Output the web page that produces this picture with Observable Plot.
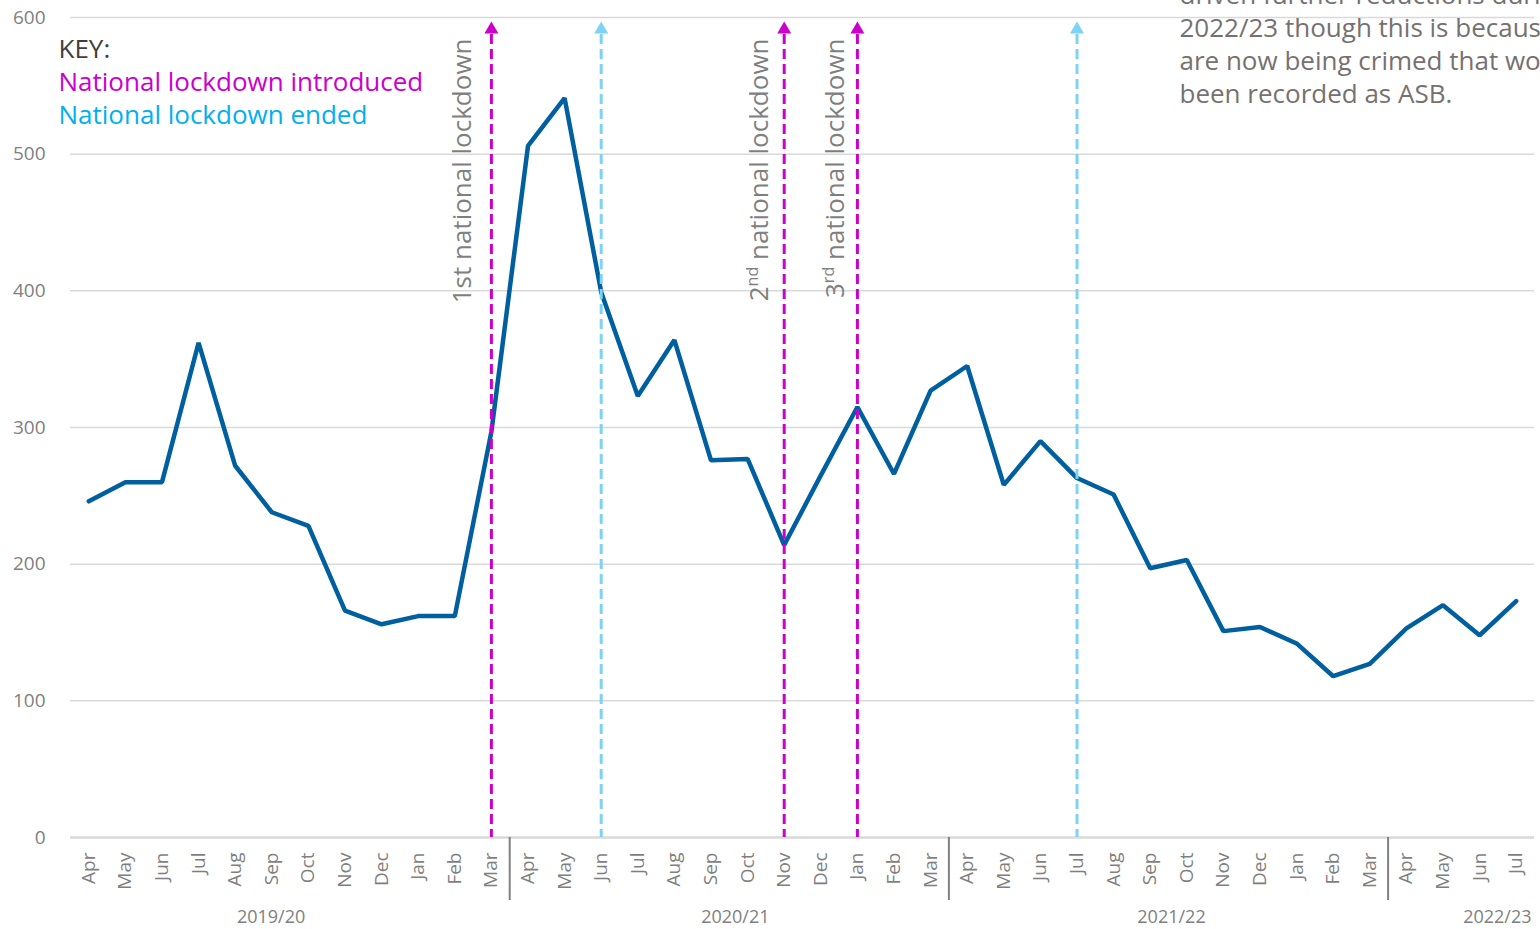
<!DOCTYPE html>
<html><head><meta charset="utf-8">
<script src="https://cdn.jsdelivr.net/npm/d3@7"></script>
<script src="https://cdn.jsdelivr.net/npm/@observablehq/plot@0.6"></script>
<style>html,body{margin:0;padding:0;background:#fff;overflow:hidden}</style>
</head><body><div id="chart"></div>
<script>
const monthLabels = ["Apr","May","Jun","Jul","Aug","Sep","Oct","Nov","Dec","Jan","Feb","Mar",
  "Apr","May","Jun","Jul","Aug","Sep","Oct","Nov","Dec","Jan","Feb","Mar",
  "Apr","May","Jun","Jul","Aug","Sep","Oct","Nov","Dec","Jan","Feb","Mar",
  "Apr","May","Jun","Jul"];
const fiscalYears = ["2019/20","2019/20","2019/20","2019/20","2019/20","2019/20","2019/20","2019/20","2019/20","2019/20","2019/20","2019/20",
  "2020/21","2020/21","2020/21","2020/21","2020/21","2020/21","2020/21","2020/21","2020/21","2020/21","2020/21","2020/21",
  "2021/22","2021/22","2021/22","2021/22","2021/22","2021/22","2021/22","2021/22","2021/22","2021/22","2021/22","2021/22",
  "2022/23","2022/23","2022/23","2022/23"];
const asbIncidents = [246,260,260,362,272,238,228,166,156,162,162,297,
  506,541,399,323,364,276,277,214,265,315,266,327,
  345,258,290,263,251,197,203,151,154,142,118,127,
  153,170,148,173];
const yTicks = [0,100,200,300,400,500,600];
const lockdownIntroduced = [11,19,21];   // month index: Mar 2020, Nov 2020, Jan 2021
const lockdownEnded = [14,27];           // month index: Jun 2020, Jul 2021
const lockdownLabels = ["1st national lockdown","2nd national lockdown","3rd national lockdown"];
const keyLines = ["KEY:","National lockdown introduced","National lockdown ended"];
const noteLines = ["driven further reductions during","2022/23 though this is because some incidents","are now being crimed that would have previously","been recorded as ASB."];

const W = 1540, H = 929, mT = 17, mB = 92, mL = 70, mR = 6;
const frameH = H - mT - mB;
const FONT = "'Open Sans', sans-serif";
const MAGENTA = "#cc00cc", LIGHTBLUE = "#7dd3f5", LINE = "#005f9e", GREY = "#7f7f7f";
const TXT = 26;

const data = asbIncidents.map((v, i) => ({i, v, month: monthLabels[i], fy: fiscalYears[i]}));
const groups = d3.groups(data, d => d.fy).map(([fy, rows]) => ({fy, first: rows[0].i, last: rows[rows.length - 1].i}));
const yearCentres = groups.map(g => ({fy: g.fy, x: (g.first + g.last) / 2}));
const boundaries = groups.slice(1).map(g => g.first - 0.5);
const labelData = lockdownLabels.map((t, k) => ({t, i: lockdownIntroduced[k]}));
const labelDx = [-20, -16, -13];
const yearDx = [-19, 6, 3, 36];

const arrow = (idx, color) => [
  Plot.ruleX(idx, {stroke: color, strokeWidth: 3, strokeDasharray: "10,5", insetTop: 17}),
  Plot.dot(idx, {x: d => d, frameAnchor: "top", dy: 12, symbol: "triangle", r: 5.2, fill: color, stroke: null})
];

const plot = Plot.plot({
  width: W, height: H,
  marginTop: mT, marginBottom: mB, marginLeft: mL, marginRight: mR,
  style: {fontFamily: FONT, background: "#fff", overflow: "hidden"},
  x: {type: "linear", domain: [-0.5, monthLabels.length - 0.5], label: null},
  y: {domain: [0, 600], label: null},
  marks: [
    Plot.ruleY(yTicks.filter(t => t > 0), {stroke: "#d9d9d9", strokeWidth: 1.5}),
    Plot.ruleY([0], {stroke: "#d9d9d9", strokeWidth: 2.5}),
    Plot.ruleX(boundaries, {stroke: "#808080", strokeWidth: 2, insetTop: frameH, insetBottom: -63}),
    Plot.line(data, {x: "i", y: "v", stroke: LINE, strokeWidth: 4.5, strokeLinejoin: "miter", strokeLinecap: "round"}),
    ...arrow(lockdownEnded, LIGHTBLUE),
    ...arrow(lockdownIntroduced, MAGENTA),
    ...labelData.map((d, k) => Plot.text([d], {x: "i", text: "t", frameAnchor: "top", rotate: -90,
      textAnchor: "end", lineAnchor: "bottom", dy: 21, dx: labelDx[k], fontSize: TXT, fill: GREY})),
    Plot.text([keyLines[0]], {frameAnchor: "top-left", textAnchor: "start", lineAnchor: "bottom", dx: -12, dy: 40, fontSize: TXT, fill: "#404040"}),
    Plot.text([keyLines[1]], {frameAnchor: "top-left", textAnchor: "start", lineAnchor: "bottom", dx: -12, dy: 73, fontSize: TXT, fill: MAGENTA}),
    Plot.text([keyLines[2]], {frameAnchor: "top-left", textAnchor: "start", lineAnchor: "bottom", dx: -12, dy: 106, fontSize: TXT, fill: "#00b0f0"}),
    Plot.text([noteLines.join("\n")], {frameAnchor: "top-right", textAnchor: "start", lineAnchor: "top",
      lineHeight: 33 / TXT, dx: -355, dy: -37, fontSize: TXT, fill: "#767171"}),
    Plot.axisY({ticks: yTicks, tickSize: 0, tickPadding: 25, fontSize: 19, fill: GREY, label: null}),
    Plot.axisX({ticks: d3.range(monthLabels.length), tickFormat: i => monthLabels[i], tickRotate: -90,
      tickSize: 0, tickPadding: 15, fontSize: 19, fill: GREY, label: null}),
    ...yearCentres.map((d, k) => Plot.text([d], {x: "x", text: "fy", frameAnchor: "bottom", dy: 85, dx: yearDx[k], fontSize: 18, fill: GREY}))
  ]
});

d3.select(plot).selectAll("text").each(function () {
  const m = (this.textContent || "").match(/^([23])(nd|rd)( national lockdown)$/);
  if (!m) return;
  const t = d3.select(this);
  t.text(null);
  t.append("tspan").text(m[1]);
  t.append("tspan").attr("font-size", "16px").attr("dy", "-10px").text(m[2]);
  t.append("tspan").attr("dy", "10px").text(m[3]);
});

document.getElementById("chart").appendChild(plot);
</script>
</body></html>
